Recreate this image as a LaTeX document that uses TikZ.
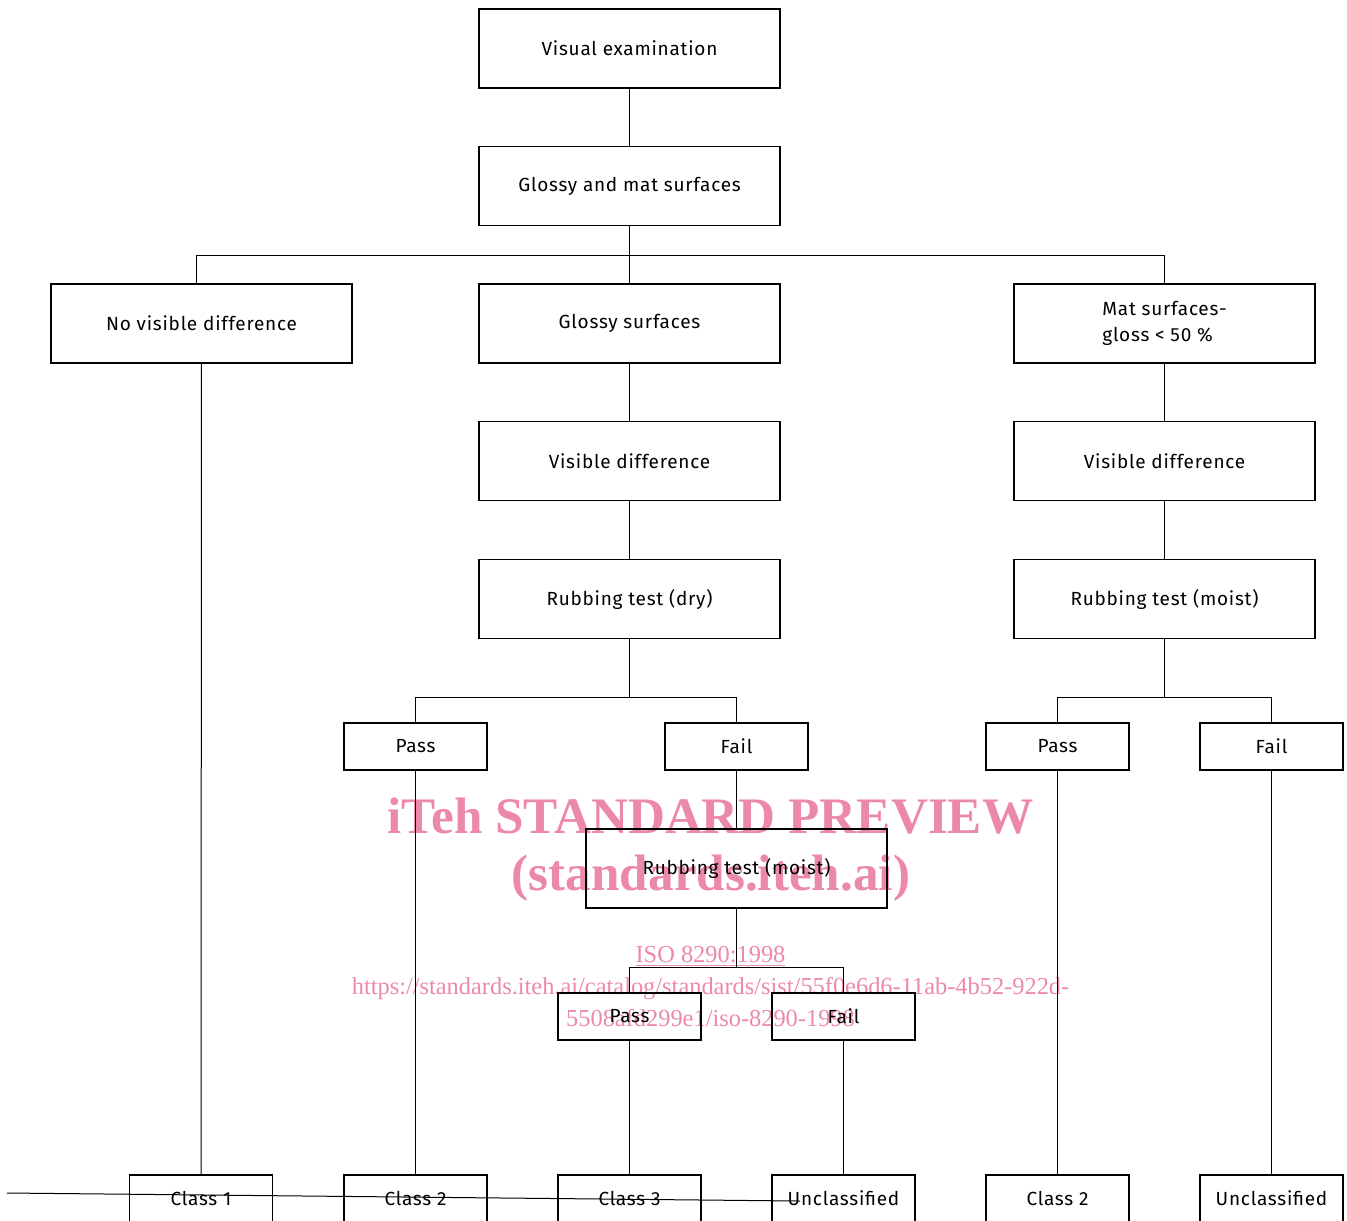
\documentclass[tikz,border=0pt]{standalone}
\usepackage{fontspec}
\setmainfont{Fira Sans}[LetterSpace=4.0]
\newfontfamily\wmfont{Liberation Serif}
\definecolor{wmpink}{RGB}{236,137,168}

\tikzset{
  box/.style={draw, line width=0.75pt, minimum width=150.5pt, minimum height=39.5pt,
    inner sep=0pt, font=\fontsize{9.5}{13}\selectfont},
  smallbox/.style={box, minimum width=71.5pt, minimum height=23.5pt},
  link/.style={line width=0.5pt},
  wmbig/.style={text=wmpink, anchor=base, inner sep=0pt,
    font=\wmfont\bfseries\fontsize{25.6}{30}\selectfont},
  wmsmall/.style={text=wmpink, anchor=base, inner sep=0pt,
    font=\wmfont\fontsize{12.2}{14}\selectfont}
}

\begin{document}
\begin{tikzpicture}[x=0.5pt, y=-0.5pt]
        \useasboundingbox (0,0) rectangle (1347,1220);

        % watermark
        \node[wmbig] (wm1) at (710.5, 833) {iTeh STANDARD PREVIEW};
        \node[wmbig] (wm2) at (711, 890) {(standards.iteh.ai)};
        \node[wmsmall] (wm3) at (710.5, 962) {\underline{ISO 8290:1998}};
        \node[wmsmall] (wm4) at (710.5, 994) {https://standards.iteh.ai/catalog/standards/sist/55f0e6d6-11ab-4b52-922d-};
        \node[wmsmall] (wm5) at (710.5, 1026) {5508afd299e1/iso-8290-1998};

        \node[box] (visual)   at (629.5, 48.5)  {Visual examination};
        \node[box] (glossmat) at (629.5, 186)   {Glossy and mat surfaces};
        \node[box] (novis)    at (201.5, 323.5) {No visible difference};
        \node[box] (glossy)   at (629.5, 323.5) {Glossy surfaces};
        \node[box, align=left] (mat) at (1164.5, 323.5) {Mat surfaces-\\gloss < 50 \%};
        \node[box] (visleft)  at (629.5, 461)   {Visible difference};
        \node[box] (visright) at (1164.5, 461)  {Visible difference};
        \node[box] (dry)      at (629.5, 599)   {Rubbing test (dry)};
        \node[box] (moistr)   at (1164.5, 599)  {Rubbing test (moist)};

        \node[smallbox] (passa) at (415.5, 746.5)  {Pass};
        \node[smallbox] (faila) at (736.5, 746.5)  {Fail};
        \node[smallbox] (passr) at (1057.5, 746.5) {Pass};
        \node[smallbox] (failr) at (1271.5, 746.5) {Fail};

        \node[box] (moistm) at (736.5, 868.5) {Rubbing test (moist)};
        \node[smallbox] (passb) at (629.5, 1016.5) {Pass};
        \node[smallbox] (failb) at (843.5, 1016.5) {Fail};

        \node[smallbox] (classa) at (201, 1198.5)    {Class 1};
        \node[smallbox] (classb) at (415.5, 1198.5)  {Class 2};
        \node[smallbox] (classc) at (629.5, 1198.5)  {Class 3};
        \node[smallbox] (unclb)  at (843.5, 1198.5)  {Unclassified};
        \node[smallbox] (classr) at (1057.5, 1198.5) {Class 2};
        \node[smallbox] (unclr)  at (1271.5, 1198.5) {Unclassified};

        % connectors
        \draw[link] (visual) -- (glossmat);
        \draw[link] (glossmat.south) -- ++(0,29) coordinate (fork1);
        \draw[link] (fork1) -| ([xshift=-2.75pt]novis.north);
        \draw[link] (fork1) -- (glossy);
        \draw[link] (fork1) -| (mat.north);
        \draw[link] (glossy) -- (visleft);
        \draw[link] (visleft) -- (dry);
        \draw[link] (mat) -- (visright);
        \draw[link] (visright) -- (moistr);

        \draw[link] (dry.south) -- ++(0,58) coordinate (fork2);
        \draw[link] (fork2) -| (passa.north);
        \draw[link] (fork2) -| (faila.north);
        \draw[link] (moistr.south) -- ++(0,58) coordinate (fork3);
        \draw[link] (fork3) -| (passr.north);
        \draw[link] (fork3) -| (failr.north);

        \draw[link] (faila) -- (moistm);
        \draw[link] (moistm.south) -- ++(0,59) coordinate (fork4);
        \draw[link] (fork4) -| (passb.north);
        \draw[link] (fork4) -| (failb.north);

        \draw[link] (novis) -- (classa);
        \draw[link] (passa) -- (classb);
        \draw[link] (passb) -- (classc);
        \draw[link] (failb) -- (unclb);
        \draw[link] (passr) -- (classr);
        \draw[link] (failr) -- (unclr);

        \coordinate (strayl) at (7, 1193);
        \coordinate (strayr) at (800, 1201);
        \draw[link] (strayl) -- (strayr);
      \end{tikzpicture}
\end{document}
